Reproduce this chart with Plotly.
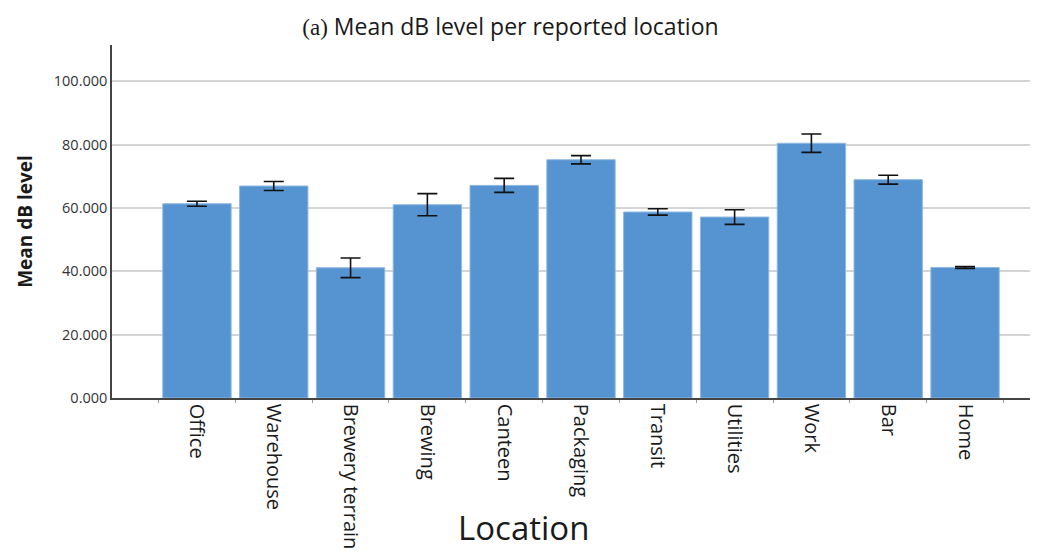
import plotly.graph_objects as go

categories = ["Office", "Warehouse", "Brewery terrain", "Brewing", "Canteen", "Packaging",
              "Transit", "Utilities", "Work", "Bar", "Home"]
mean_db = [61.3, 66.9, 41.1, 61.0, 67.1, 75.2, 58.7, 57.1, 80.4, 68.9, 41.2]
err_db = [0.8, 1.4, 3.1, 3.5, 2.2, 1.3, 1.0, 2.3, 2.9, 1.4, 0.3]
y_ticks = [0, 20, 40, 60, 80, 100]
y_tick_labels = ["0.000", "20.000", "40.000", "60.000", "80.000", "100.000"]

fig = go.Figure()
fig.add_trace(go.Bar(
    x=categories, y=mean_db,
    marker=dict(color="#5594d0", line=dict(color="#8fb9e3", width=1)),
    error_y=dict(type="data", array=err_db, visible=True, color="#111111",
                 thickness=1.6, width=10),
))

fig.update_layout(
    width=1046, height=560,
    margin=dict(l=112, r=16, t=45, b=162),
    paper_bgcolor="white", plot_bgcolor="white",
    bargap=0.11,
    showlegend=False,
    font=dict(family="Open Sans", color="#222222"),
    title=dict(
        text='<span style="font-family:Liberation Serif">(a)</span> Mean dB level per reported location',
        x=0.488, xanchor="center", y=0.952, yanchor="middle",
        font=dict(size=23, color="#1a1a1a", family="Open Sans"),
    ),
    xaxis=dict(
        range=[-1.106, 10.846],
        tickangle=90,
        tickfont=dict(size=20, color="#1a1a1a", family="Open Sans"),
        showline=True, linecolor="#444444", linewidth=1.5,
        ticks="outside", tickson="boundaries", ticklen=3, tickcolor="#999999",
        showgrid=False,
    ),
    yaxis=dict(
        range=[0, 111.4],
        tickvals=y_ticks, ticktext=y_tick_labels,
        tickfont=dict(size=14.5, color="#333333", family="Open Sans"),
        showline=True, linecolor="#444444", linewidth=1.5,
        showgrid=True, gridcolor="#d4d4d4", gridwidth=1.5,
        zeroline=False,
        ticks="", ticklen=0,
        title=dict(text="<b>Mean dB level</b>", font=dict(size=19, color="#1a1a1a", family="Open Sans"),
                   standoff=16),
    ),
    annotations=[dict(
        text="Location", xref="paper", yref="paper",
        x=(523 - 112) / 918, y=-(527 - 398) / 353, xanchor="center", yanchor="middle",
        showarrow=False, font=dict(size=33, color="#1a1a1a", family="Open Sans"),
    )],
)

fig.write_html("out.html")
